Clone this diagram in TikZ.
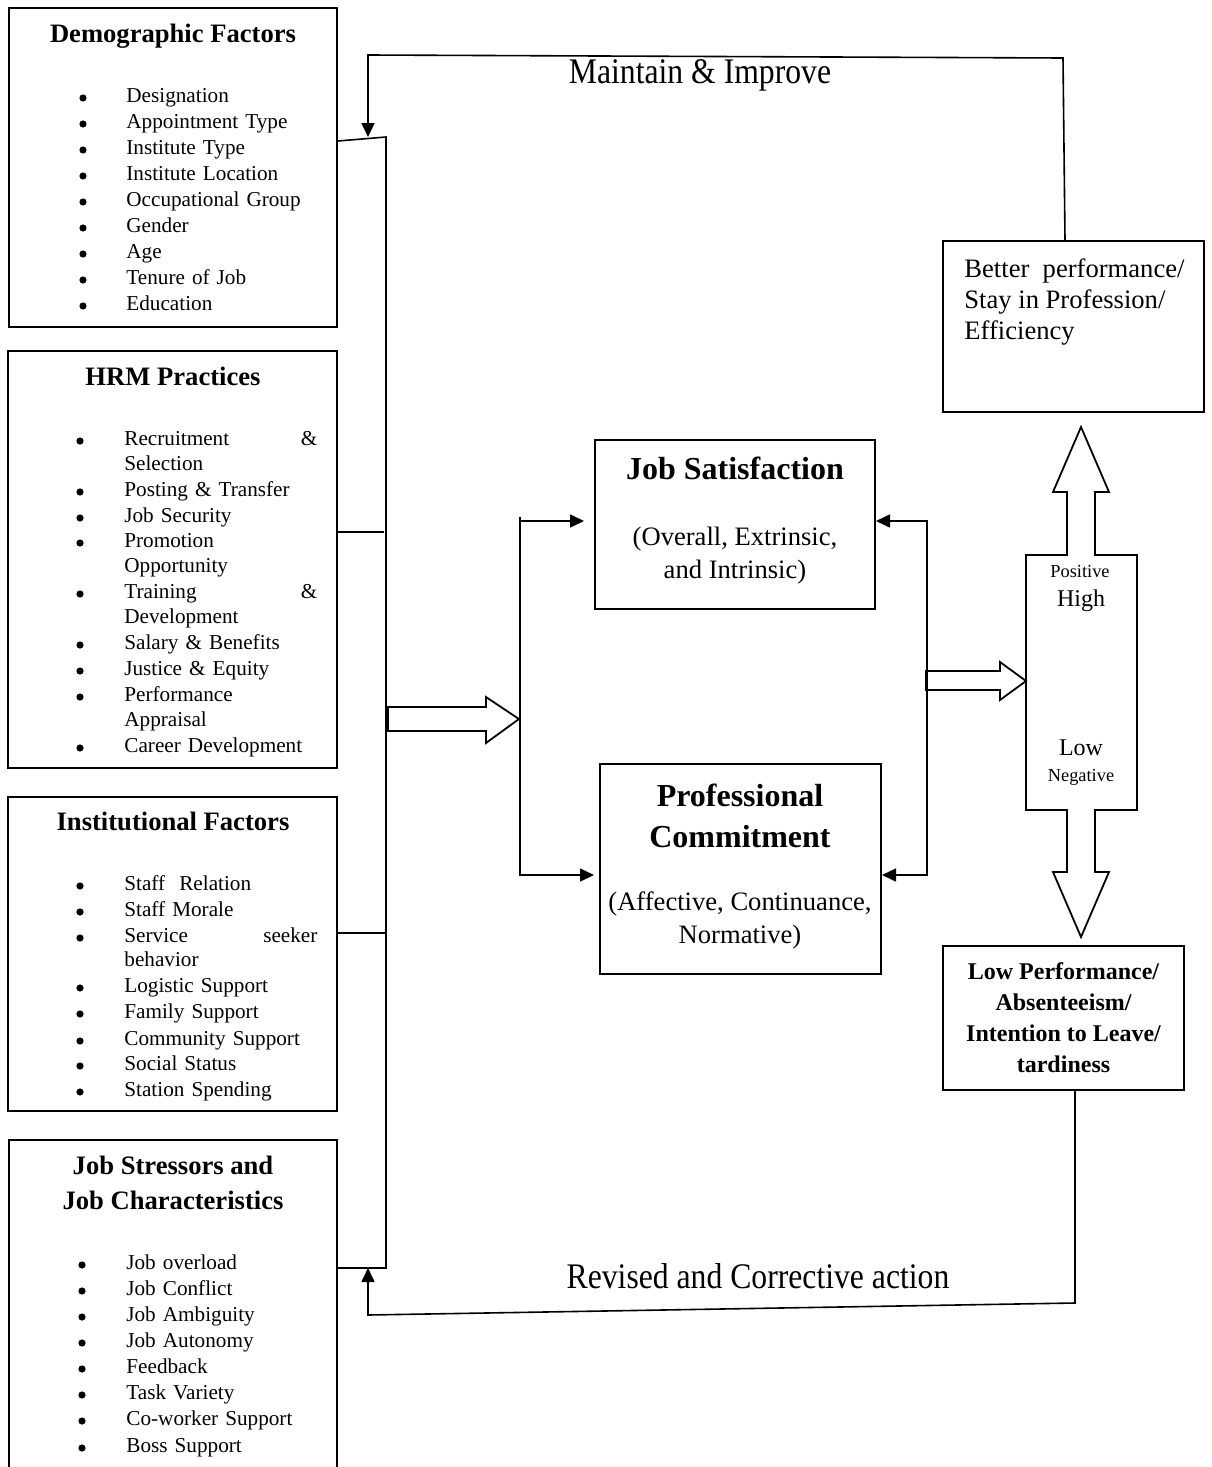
\documentclass[tikz,border=0pt]{standalone}
\usepackage{fontspec}
\setmainfont{Liberation Serif}
\usetikzlibrary{arrows.meta, calc}

\begin{document}
\begin{tikzpicture}[x=0.5pt, y=-0.5pt,
    box/.style={draw, line width=1pt, inner sep=0pt},
    ttl/.style={font=\bfseries\fontsize{13.3}{17.5}\selectfont, align=center, inner sep=0pt},
    bul/.style={circle, fill, inner sep=0pt, minimum size=3.6pt},
    itm/.style={font=\fontsize{10.6}{13}\selectfont, anchor=mid west, inner sep=0pt,
                text width=96.5pt, align=left},
    head/.style={font=\bfseries\fontsize{16}{20.5}\selectfont, align=center, inner sep=0pt},
    sub/.style={font=\fontsize{13.3}{16.5}\selectfont, align=center, inner sep=0pt},
    loop/.style={font=\fontsize{18}{20}\selectfont, anchor=mid, inner sep=0pt},
    wire/.style={line width=0.8pt},
    arr/.style={line width=0.8pt, -{Triangle[length=7pt, width=6.5pt]}},
    arrs/.style={line width=0.8pt, {Triangle[length=7pt, width=6.5pt]}-{Triangle[length=7pt, width=6.5pt]}},
    big/.style={draw, line width=0.9pt, fill=white}]

\useasboundingbox (0,0) rectangle (1211,1467);

% demographic factors
\node[box, minimum width=164pt, minimum height=159.5pt] (demo) at (173,167.5) {};
\node[ttl, anchor=mid] (demo-t) at (173,38) {Demographic Factors};
\foreach \y/\t in {98/Designation, 124/Appointment Type, 150/Institute Type,
    176/Institute Location, 202/Occupational Group, 228/Gender, 254/Age,
    280/Tenure of Job, 306/Education}{
  \node[bul] (demo-b\y) at (83,\y) {};
  \node[itm] (demo-i\y) at (126,\y) {\t};
}

% hrm practices
\node[box, minimum width=164.5pt, minimum height=208.5pt] (hrm) at (172.5,559.5) {};
\node[ttl, anchor=mid] (hrm-t) at (173,381) {HRM Practices};
\foreach \y in {441,492,518,543,594,645,671,697,748}
  \node[bul] (hrm-b\y) at (80,\y) {};
\foreach \y/\t in {441/Recruitment\hfill\&, 466/Selection, 492/Posting \& Transfer,
    518/Job Security, 543/Promotion, 568/Opportunity, 594/Training\hfill\&,
    619/Development, 645/Salary \& Benefits, 671/Justice \& Equity,
    697/Performance, 722/Appraisal, 748/Career Development}
  \node[itm] (hrm-i\y) at (124,\y) {\t};

% institutional factors
\node[box, minimum width=164.5pt, minimum height=157pt] (inst) at (172.5,954) {};
\node[ttl, anchor=mid] (inst-t) at (173,826) {Institutional Factors};
\foreach \y in {886,912,938,988,1014,1041,1066,1092}
  \node[bul] (inst-b\y) at (80,\y) {};
\foreach \y/\t in {886/Staff\ \ Relation, 912/Staff Morale, 938/Service\hfill seeker,
    962/behavior, 988/Logistic Support, 1014/Family Support,
    1041/Community Support, 1066/Social Status, 1092/Station Spending}
  \node[itm] (inst-i\y) at (124,\y) {\t};

% job stressors (box runs off the page)
\node[box, minimum width=164pt, minimum height=165pt] (jobstr) at (173,1305) {};
\node[ttl] (jobstr-t) at (173,1183) {Job Stressors and\\Job Characteristics};
\foreach \y/\t in {1265/Job overload, 1291/Job Conflict, 1317/Job Ambiguity,
    1343/Job Autonomy, 1369/Feedback, 1395/Task Variety,
    1421/Co-worker Support, 1448/Boss Support}{
  \node[bul] (jobstr-b\y) at (82,\y) {};
  \node[itm] (jobstr-i\y) at (126,\y) {\t};
}

% centre boxes
\node[box, minimum width=140pt, minimum height=84.5pt] (js) at (735,524.5) {};
\node[head, anchor=mid] (js-t) at (735,475) {Job Satisfaction};
\node[sub] (js-s) at (735,556) {(Overall, Extrinsic,\\and Intrinsic)};

\node[box, minimum width=140.5pt, minimum height=105pt] (pc) at (740.5,869) {};
\node[head] (pc-t) at (740,816) {Professional\\Commitment};
\node[sub] (pc-s) at (740,920) {(Affective, Continuance,\\Normative)};

% outcome boxes
\node[box, minimum width=130.5pt, minimum height=85.5pt] (better) at (1073.5,326.5) {};
\node[font=\fontsize{13.3}{15.5}\selectfont, anchor=north west, inner sep=0pt,
      align=left] (better-t) at (964,258)
    {Better\ \ performance/\\Stay in Profession/\\Efficiency};

\node[box, minimum width=120.5pt, minimum height=72pt, align=center,
      font=\bfseries\fontsize{12}{15.5}\selectfont] (low) at (1063.5,1018)
    {Low Performance/\\Absenteeism/\\Intention to Leave/\\tardiness};

% high / low double arrow
\draw[big] (1026,555) -- (1067,555) -- (1067,492) -- (1053,492) -- (1081,427)
    -- (1109,492) -- (1095,492) -- (1095,555) -- (1137,555) -- (1137,810)
    -- (1095,810) -- (1095,872) -- (1109,872) -- (1081,937) -- (1053,872)
    -- (1067,872) -- (1067,810) -- (1026,810) -- cycle;
\node[font=\fontsize{9.2}{11}\selectfont, anchor=mid, inner sep=0pt] (pos) at (1080,573) {Positive};
\node[font=\fontsize{12}{14}\selectfont, anchor=mid, inner sep=0pt] (high) at (1081,602) {High};
\node[font=\fontsize{12}{14}\selectfont, anchor=mid, inner sep=0pt] (lowlbl) at (1081,751) {Low};
\node[font=\fontsize{9.2}{11}\selectfont, anchor=mid, inner sep=0pt] (neg) at (1081,777) {Negative};

% block arrows
\draw[big] (388,707) -- (486,707) -- (486,697) -- (519,719) -- (486,743)
    -- (486,731) -- (388,731) -- cycle;
\draw[big] (926,671) -- (1000,671) -- (1000,662) -- (1026,681) -- (1000,700)
    -- (1000,690) -- (926,690) -- cycle;

% bus on the left
\coordinate (busTop) at (386,137);
\coordinate (busBot) at (386,1268);
\coordinate (hrmIn) at (384,532);
\coordinate (instIn) at (386,933);
\draw[wire] ($(demo.east |- busTop)+(0,4)$) -- (busTop) -- (busBot) -- (jobstr.east |- busBot);
\draw[wire] (hrm.east |- hrmIn) -- (hrmIn);
\draw[wire] (inst.east |- instIn) -- (instIn);

% brackets to the centre boxes
\coordinate (lb) at (520,700);
\coordinate (rb) at (927,700);
\draw[wire] (520,517) -- (520,522);
\draw[arrs] ($(js.west)+(-10,-3.5)$) -| (lb) |- ($(pc.west)+(-5,6)$);
\draw[arrs] ($(js.east)+(0,-3.5)$) -| (rb) |- ($(pc.east)+(0,6)$);

% feedback loops
\coordinate (mR) at (1063,58);
\coordinate (mL) at (368,55);
\draw[arr] ($(better.north)+(-8.5,0)$) -- (mR) -- (mL) -- (mL |- busTop);
\node[loop] (maintain) at (700,79) {\scalebox{.88}[1]{Maintain \& Improve}};

\coordinate (rR) at (1075,1303);
\coordinate (rL) at (368,1315);
\draw[arr] ($(low.south)+(11.5,0)$) -- (rR) -- (rL) -- (rL |- busBot);
\node[loop] (revised) at (758,1284) {\scalebox{.88}[1]{Revised and Corrective action}};

\end{tikzpicture}
\end{document}
